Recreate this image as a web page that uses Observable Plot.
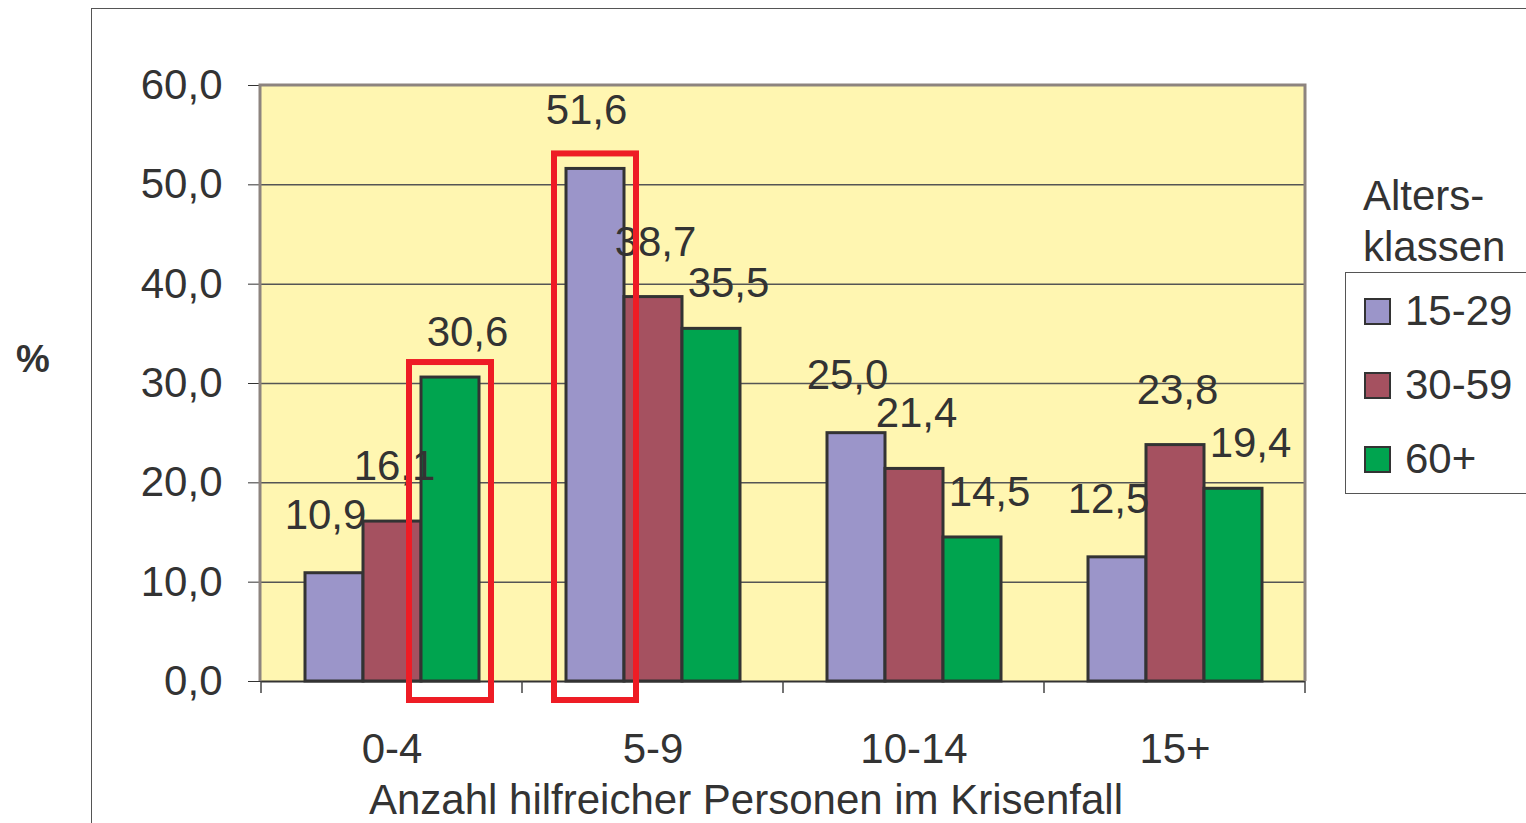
<!DOCTYPE html>
<html>
<head>
<meta charset="utf-8">
<script src="https://cdn.jsdelivr.net/npm/d3@7"></script>
<script src="https://cdn.jsdelivr.net/npm/@observablehq/plot@0.6"></script>
<style>
  html, body { margin: 0; padding: 0; background: #fff; }
  body { width: 1526px; height: 823px; position: relative; overflow: hidden;
         font-family: "Liberation Sans", Arial, Helvetica, sans-serif; color: #333; }
  #chart { position: absolute; left: 0; top: 0; }
  .frame-outer { position: absolute; left: 91px; top: 8px; width: 1500px; height: 900px;
                 border-left: 1.5px solid #555; border-top: 1.5px solid #555; }
  .ylab { position: absolute; left: 16px; top: 338px; font-size: 38px; font-weight: bold; }
  .xlab { position: absolute; left: 246px; width: 1000px; top: 778px; text-align: center;
          font-size: 42px; line-height: 44px; }
  .legend-title { position: absolute; left: 1363px; top: 170px; font-size: 42px; line-height: 51px; }
  .legend-box { position: absolute; left: 1345px; top: 272px; width: 220px; height: 220px;
                border: 1.5px solid #555; }
  .legend-row { position: absolute; left: 18px; font-size: 42px; line-height: 44px; display: flex; align-items: center; }
  .legend-row .sw { width: 23px; height: 23px; border: 2.5px solid #333; margin-right: 14px; }
</style>
</head>
<body>
<div class="frame-outer"></div>
<div id="chart"></div>
<div class="ylab">%</div>
<div class="xlab">Anzahl hilfreicher Personen im Krisenfall</div>
<div class="legend-title">Alters-<br>klassen</div>
<div class="legend-box" id="legend"></div>
<script>
// Number of helpful people in a crisis, share (%) by age class
const categories = ["0-4", "5-9", "10-14", "15+"];
const ageGroups = ["15-29", "30-59", "60+"];
const share1529 = [10.9, 51.6, 25.0, 12.5];
const share3059 = [16.1, 38.7, 21.4, 23.8];
const share60plus = [30.6, 35.5, 14.5, 19.4];
const groupColors = ["#9b95c9", "#a55160", "#00a44f"];
const yTicks = [0, 10, 20, 30, 40, 50, 60];
const gridValues = [10, 20, 30, 40, 50];
// bars singled out with a red box
const highlighted = [
  {category: "0-4", group: "60+"},
  {category: "5-9", group: "15-29"}
];

const series = [share1529, share3059, share60plus];
const rows = [];
categories.forEach((c, i) => {
  ageGroups.forEach((g, j) => rows.push({
    category: c, group: g, value: series[j][i],
    marked: highlighted.some(h => h.category === c && h.group === g)
  }));
});
const fmt = v => v.toFixed(1).replace(".", ",");

// value-label nudges per age class (label sits above its bar)
const labelNudge = {"15-29": [-9, -58], "30-59": [2, -55], "60+": [17, -45]};

const W = 1526, H = 823;
const mL = 260, mR = 221, mT = 85, mB = 142;

const chart = Plot.plot({
  width: W,
  height: H,
  marginLeft: mL,
  marginRight: mR,
  marginTop: mT,
  marginBottom: mB,
  style: {
    fontFamily: "'Liberation Sans', Arial, Helvetica, sans-serif",
    fontSize: "42px",
    color: "#333",
    background: "transparent",
    overflow: "visible"
  },
  facet: {data: rows, x: "category"},
  fx: {domain: categories, padding: 0, label: null, tickSize: 0, tickPadding: 52},
  x: {domain: ageGroups, axis: null, paddingInner: 0, paddingOuter: 0.75},
  y: {domain: [0, 60], ticks: yTicks, tickFormat: fmt, tickSize: 13, tickPadding: 26, label: null},
  color: {domain: ageGroups, range: groupColors},
  marks: [
    Plot.ruleY(gridValues, {stroke: "#555", strokeWidth: 1.5}),
    Plot.barY(rows, {x: "group", y: "value", fill: "group", stroke: "#333", strokeWidth: 3}),
    Plot.ruleY([0], {stroke: "#333", strokeWidth: 2}),
    ...ageGroups.map(g => Plot.text(rows, {
      filter: d => d.group === g,
      x: "group", y: "value", text: d => fmt(d.value),
      dx: labelNudge[g][0], dy: labelNudge[g][1],
      fill: "#333", fontSize: 42
    })),
    Plot.barY(rows, {filter: d => d.marked, x: "group", y: "value", fill: "none", stroke: "#ee1c25",
                     strokeWidth: 6, insetLeft: -12, insetRight: -12,
                     insetTop: -15, insetBottom: -19})
  ]
});
document.getElementById("chart").appendChild(chart);

// Plot-area background and border, plus category boundary ticks
const svg = d3.select(chart);
const pw = W - mL - mR, ph = H - mT - mB;
svg.insert("rect", ":first-child")
  .attr("x", mL).attr("y", mT).attr("width", pw).attr("height", ph)
  .attr("fill", "#fff6b1");
svg.append("path")
  .attr("d", `M${mL},${mT + ph}V${mT}H${mL + pw}V${mT + ph}`)
  .attr("fill", "none").attr("stroke", "#8d847f").attr("stroke-width", 3);
const fxScale = chart.scale("fx");
const bounds = categories.map(c => fxScale.apply(c)).concat([fxScale.apply(categories[categories.length - 1]) + fxScale.bandwidth]);
svg.append("g").selectAll("line").data(bounds).join("line")
  .attr("x1", d => d).attr("x2", d => d)
  .attr("y1", mT + ph).attr("y2", mT + ph + 12)
  .attr("stroke", "#444").attr("stroke-width", 1.5);

// legend entries
const legend = d3.select("#legend");
ageGroups.forEach((g, j) => {
  const row = legend.append("div").attr("class", "legend-row").style("top", `${16 + j * 74}px`);
  row.append("div").attr("class", "sw").style("background", groupColors[j]);
  row.append("span").text(g);
});
</script>
</body>
</html>
